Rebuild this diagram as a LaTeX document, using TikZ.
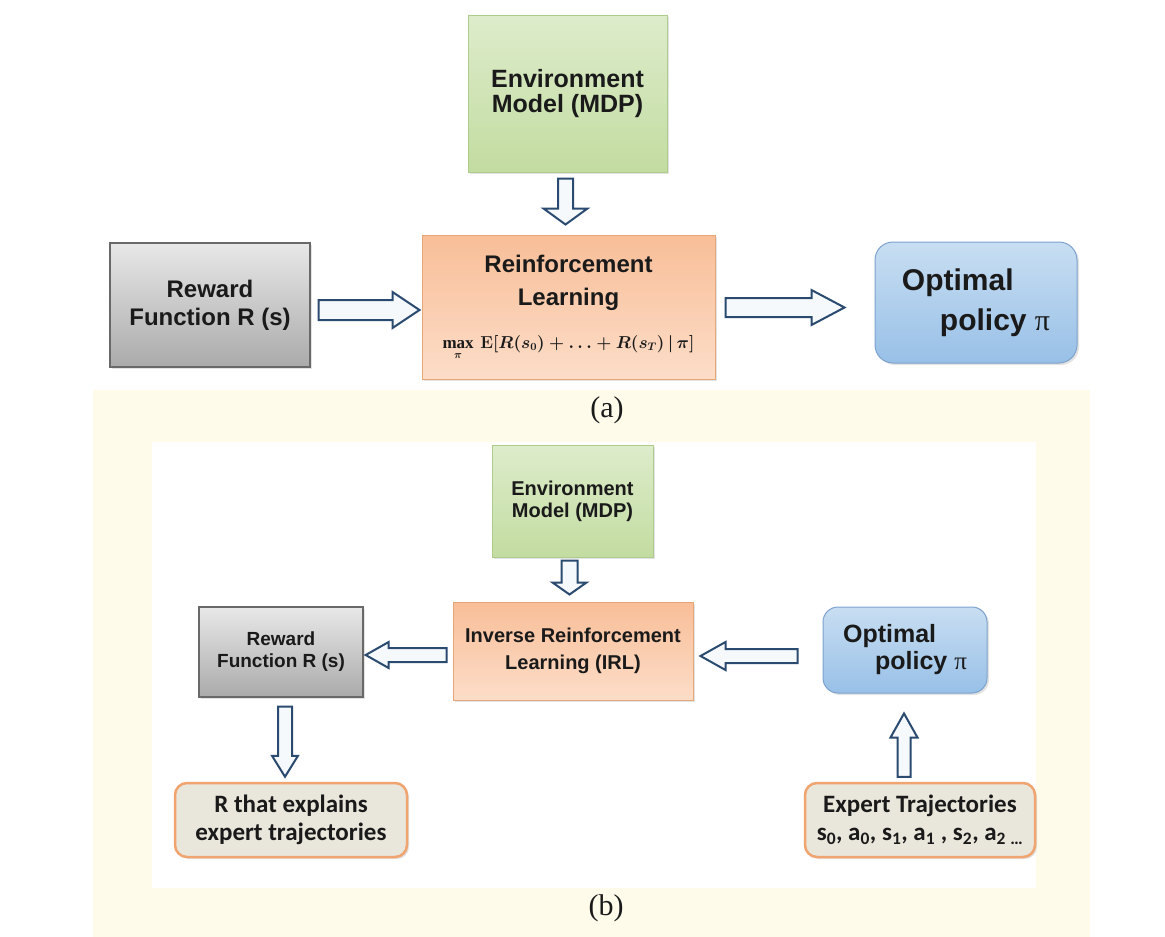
\documentclass[tikz,border=0pt]{standalone}
\usepackage{fontspec}
\setmainfont{Liberation Sans}
\newfontfamily\calibrifont{Carlito}
\newfontfamily\seriffont{Liberation Serif}
\usetikzlibrary{calc,shadows}

\definecolor{paleyellow}{HTML}{FEFBEA}
\definecolor{arrowblue}{HTML}{2B4A6F}
\definecolor{arrowfill}{HTML}{F6F9FC}
\definecolor{txt}{HTML}{1A1A1A}
\definecolor{greentop}{HTML}{DDECCB}
\definecolor{greenbot}{HTML}{C3DCA1}
\definecolor{greenline}{HTML}{AFCB8C}

% hollow block arrow: #1 start, #2 tip, #3 shaft half width, #4 head half width, #5 head length
\newcommand\hollowarrow[5]{%
  \coordinate (neck) at ($(#2)!#5!(#1)$);
  \draw[blockarrow]
    ($(#1)!#3!90:(#2)$) -- ($(neck)!#3!-90:(#1)$) -- ($(neck)!#4!-90:(#1)$) --
    (#2) -- ($(neck)!#4!90:(#1)$) -- ($(neck)!#3!90:(#1)$) --
    ($(#1)!#3!-90:(#2)$) -- cycle;}

% expected-return objective written under the RL box title
\newcommand\rlobjective{{\fontsize{16}{16}\selectfont\boldmath
  $\mathop{\hbox{\seriffont\bfseries\fontsize{17}{17}\selectfont max}}\limits_{\raisebox{-4pt}{$\scriptstyle\pi$}}\,
   \mathbf{E}\Bigl[R(s_0)+\ldots+R(s_T)\,\big|\,\pi\Bigr]$}}

\tikzset{
  box/.style={draw, line width=1pt, inner sep=0pt, text=txt, align=center,
    font=\bfseries, drop shadow={opacity=0.22, shadow xshift=2pt, shadow yshift=-2pt}},
  envbox/.style={box, top color=greentop, bottom color=greenbot, draw=greenline},
  rlbox/.style={box, top color={rgb,255:red,248;green,190;blue,152}, bottom color={rgb,255:red,252;green,221;blue,200}, draw={rgb,255:red,230;green,166;blue,120}},
  rewbox/.style={box, top color={rgb,255:red,232;green,232;blue,232}, bottom color={rgb,255:red,170;green,170;blue,170}, draw={rgb,255:red,105;green,105;blue,105}, line width=1.3pt},
  optbox/.style={box, rounded corners=18pt, top color={rgb,255:red,200;green,222;blue,242}, bottom color={rgb,255:red,152;green,192;blue,231}, draw={rgb,255:red,125;green,162;blue,205}},
  resbox/.style={box, rounded corners=12pt, fill={rgb,255:red,233;green,230;blue,220}, draw={rgb,255:red,240;green,164;blue,112}, line width=2.5pt, font=\calibrifont\bfseries, drop shadow={opacity=0.12, shadow xshift=1pt, shadow yshift=-1pt}},
  blockarrow/.style={draw=arrowblue, fill=arrowfill, line width=2pt, line join=miter},
  caption/.style={font=\seriffont\fontsize{30}{30}\selectfont, text=txt},
}

\begin{document}
\begin{tikzpicture}[x=1pt, y=-1pt]
\useasboundingbox (0,0) rectangle (1165,937);
\fill[white] (0,0) rectangle (1165,937);
% panel backgrounds
\fill[paleyellow] (93,390) rectangle (1090,937);
\fill[white] (152,442) rectangle (1036,888);

% ---------- (a) reinforcement learning ----------
\node[envbox, minimum width=199pt, minimum height=157pt,
      font=\bfseries\fontsize{25}{25}\selectfont] (envA) at (567.5,93.5)
      {Environment\\Model (MDP)};
\node[rlbox, minimum width=293pt, minimum height=144pt,
      font=\bfseries\fontsize{24}{33}\selectfont] (rlA) at (568.5,307)
      {Reinforcement\\Learning\\[10pt]\rlobjective};
\node[rewbox, minimum width=200pt, minimum height=124pt,
      font=\bfseries\fontsize{24}{28}\selectfont] (rewA) at (210,305)
      {Reward\\Function R (s)};
\node[optbox, minimum width=202pt, minimum height=121pt, align=left,
      font=\bfseries\fontsize{30}{40}\selectfont] (optA) at (976,302.5)
      {Optimal\\\hspace*{38pt}policy {\seriffont\mdseries π}};

\coordinate (a1s) at ($(envA.south)+(-2,6)$);
\coordinate (a1e) at ($(envA.south |- rlA.north)+(-2,-10)$);
\hollowarrow{a1s}{a1e}{7.5pt}{22pt}{16pt}
\coordinate (a2s) at ($(rewA.east)+(8,5)$);
\coordinate (a2e) at ($(rewA.east -| rlA.west)+(-2,5)$);
\hollowarrow{a2s}{a2e}{10pt}{18pt}{27pt}
\coordinate (a3s) at ($(optA.west -| rlA.east)+(10,5)$);
\coordinate (a3e) at ($(optA.west)+(-30,5)$);
\hollowarrow{a3s}{a3e}{9.5pt}{17.5pt}{33pt}

\node[caption] (capA) at (607,410) {(a)};

% ---------- (b) inverse reinforcement learning ----------
\node[envbox, minimum width=161pt, minimum height=112pt,
      font=\bfseries\fontsize{20}{22}\selectfont] (envB) at (572.5,501)
      {Environment\\Model (MDP)};
\node[rlbox, minimum width=240pt, minimum height=98pt,
      font=\bfseries\fontsize{20}{27}\selectfont] (irlB) at (573,651)
      {Inverse Reinforcement\\Learning (IRL)};
\node[rewbox, minimum width=164pt, minimum height=90pt,
      font=\bfseries\fontsize{19}{22}\selectfont] (rewB) at (281,652)
      {Reward\\Function R (s)};
\node[optbox, rounded corners=15pt, minimum width=164pt, minimum height=86pt, align=left,
      font=\bfseries\fontsize{25}{27}\selectfont] (optB) at (905,650)
      {Optimal\\\hspace*{32pt}policy {\seriffont\mdseries π}};
\node[resbox, minimum width=232pt, minimum height=74pt,
      font=\calibrifont\bfseries\fontsize{25}{28}\selectfont] (rexB) at (291,820)
      {R that explains\\expert trajectories};
\node[resbox, minimum width=230pt, minimum height=74pt,
      font=\calibrifont\bfseries\fontsize{25}{28}\selectfont] (expB) at (920,820)
      {Expert Trajectories\\s\textsubscript{0}, a\textsubscript{0}, s\textsubscript{1}, a\textsubscript{1} , s\textsubscript{2}, a\textsubscript{2}\,\textsubscript{\ldots}};

\coordinate (b1s) at ($(envB.south)+(-3,3)$);
\coordinate (b1e) at ($(envB.south |- irlB.north)+(-3,-7)$);
\hollowarrow{b1s}{b1e}{8pt}{17pt}{12pt}
\coordinate (b2s) at ($(irlB.west)+(-6,4)$);
\coordinate (b2e) at ($(rewB.east)+(2,3)$);
\hollowarrow{b2s}{b2e}{7pt}{13pt}{23pt}
\coordinate (b3s) at ($(optB.west)+(-25,6)$);
\coordinate (b3e) at ($(irlB.east)+(7,5)$);
\hollowarrow{b3s}{b3e}{7pt}{14pt}{25pt}
\coordinate (b4s) at ($(rewB.south)+(4,9)$);
\coordinate (b4e) at ($(rexB.north)+(-6,-5)$);
\hollowarrow{b4s}{b4e}{7pt}{13pt}{21pt}
\coordinate (b5s) at ($(expB.north)+(-16,-5)$);
\coordinate (b5e) at ($(optB.south)+(-1,20)$);
\hollowarrow{b5s}{b5e}{6.5pt}{13.5pt}{24pt}

\node[caption] (capB) at (606,908) {(b)};
\end{tikzpicture}
\end{document}
